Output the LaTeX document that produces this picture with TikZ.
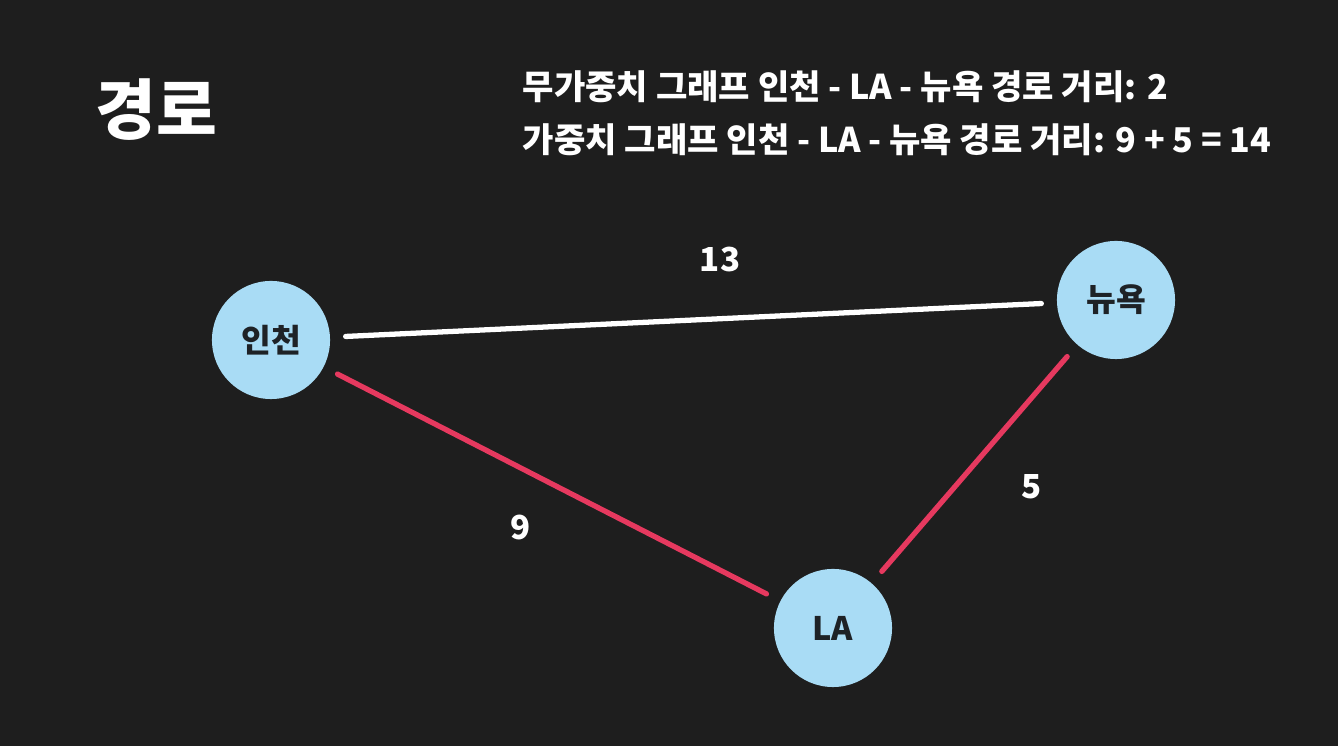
\documentclass[tikz,border=0pt]{standalone}
\usepackage{fontspec}
\setmainfont{Noto Sans CJK KR}
\definecolor{bg}{HTML}{1E1E1E}
\definecolor{nodeblue}{HTML}{A9DCF5}
\definecolor{pathred}{HTML}{E6395F}
\definecolor{ink}{HTML}{1E2226}
\begin{document}
\begin{tikzpicture}[x=0.01cm,y=-0.01cm,
  city/.style={circle,fill=nodeblue,draw=none,minimum size=1.18cm,inner sep=0pt,
    text=ink,font=\fontsize{9.2pt}{11pt}\selectfont\bfseries},
  edge/.style={line width=1.5pt,line cap=round,shorten >=0.15cm,shorten <=0.15cm},
  wlabel/.style={text=white,font=\fontsize{9.4pt}{11pt}\selectfont\bfseries,inner sep=0pt},
  headline/.style={text=white,font=\fontsize{9.7pt}{11pt}\selectfont\bfseries,inner sep=0pt,anchor=base west}]
\fill[bg] (0,0) rectangle (1338,746);
\useasboundingbox (0,0) rectangle (1338,746);
\node[text=white,font=\fontsize{18.8pt}{22pt}\selectfont\bfseries,inner sep=0pt,anchor=west] (title) at (95,110) {경로};
\node[headline] (line1) at (522,100) {무가중치 그래프 인천 - LA - 뉴욕 경로 거리: 2};
\node[headline] (line2) at (522,153) {가중치 그래프 인천 - LA - 뉴욕 경로 거리: 9 + 5 = 14};
\node[city] (icn) at (271,340) {인천};
\node[city] (nyc) at (1116,300) {뉴욕};
\node[city] (la) at (833,628) {LA};
\draw[edge,white] (icn) -- (nyc);
\draw[edge,pathred] (icn) -- (la);
\draw[edge,pathred] (nyc) -- (la);
\node[wlabel] (w13) at (720,260) {13};
\node[wlabel] (w9) at (521,528) {9};
\node[wlabel] (w5) at (1032,487) {5};
\end{tikzpicture}
\end{document}
